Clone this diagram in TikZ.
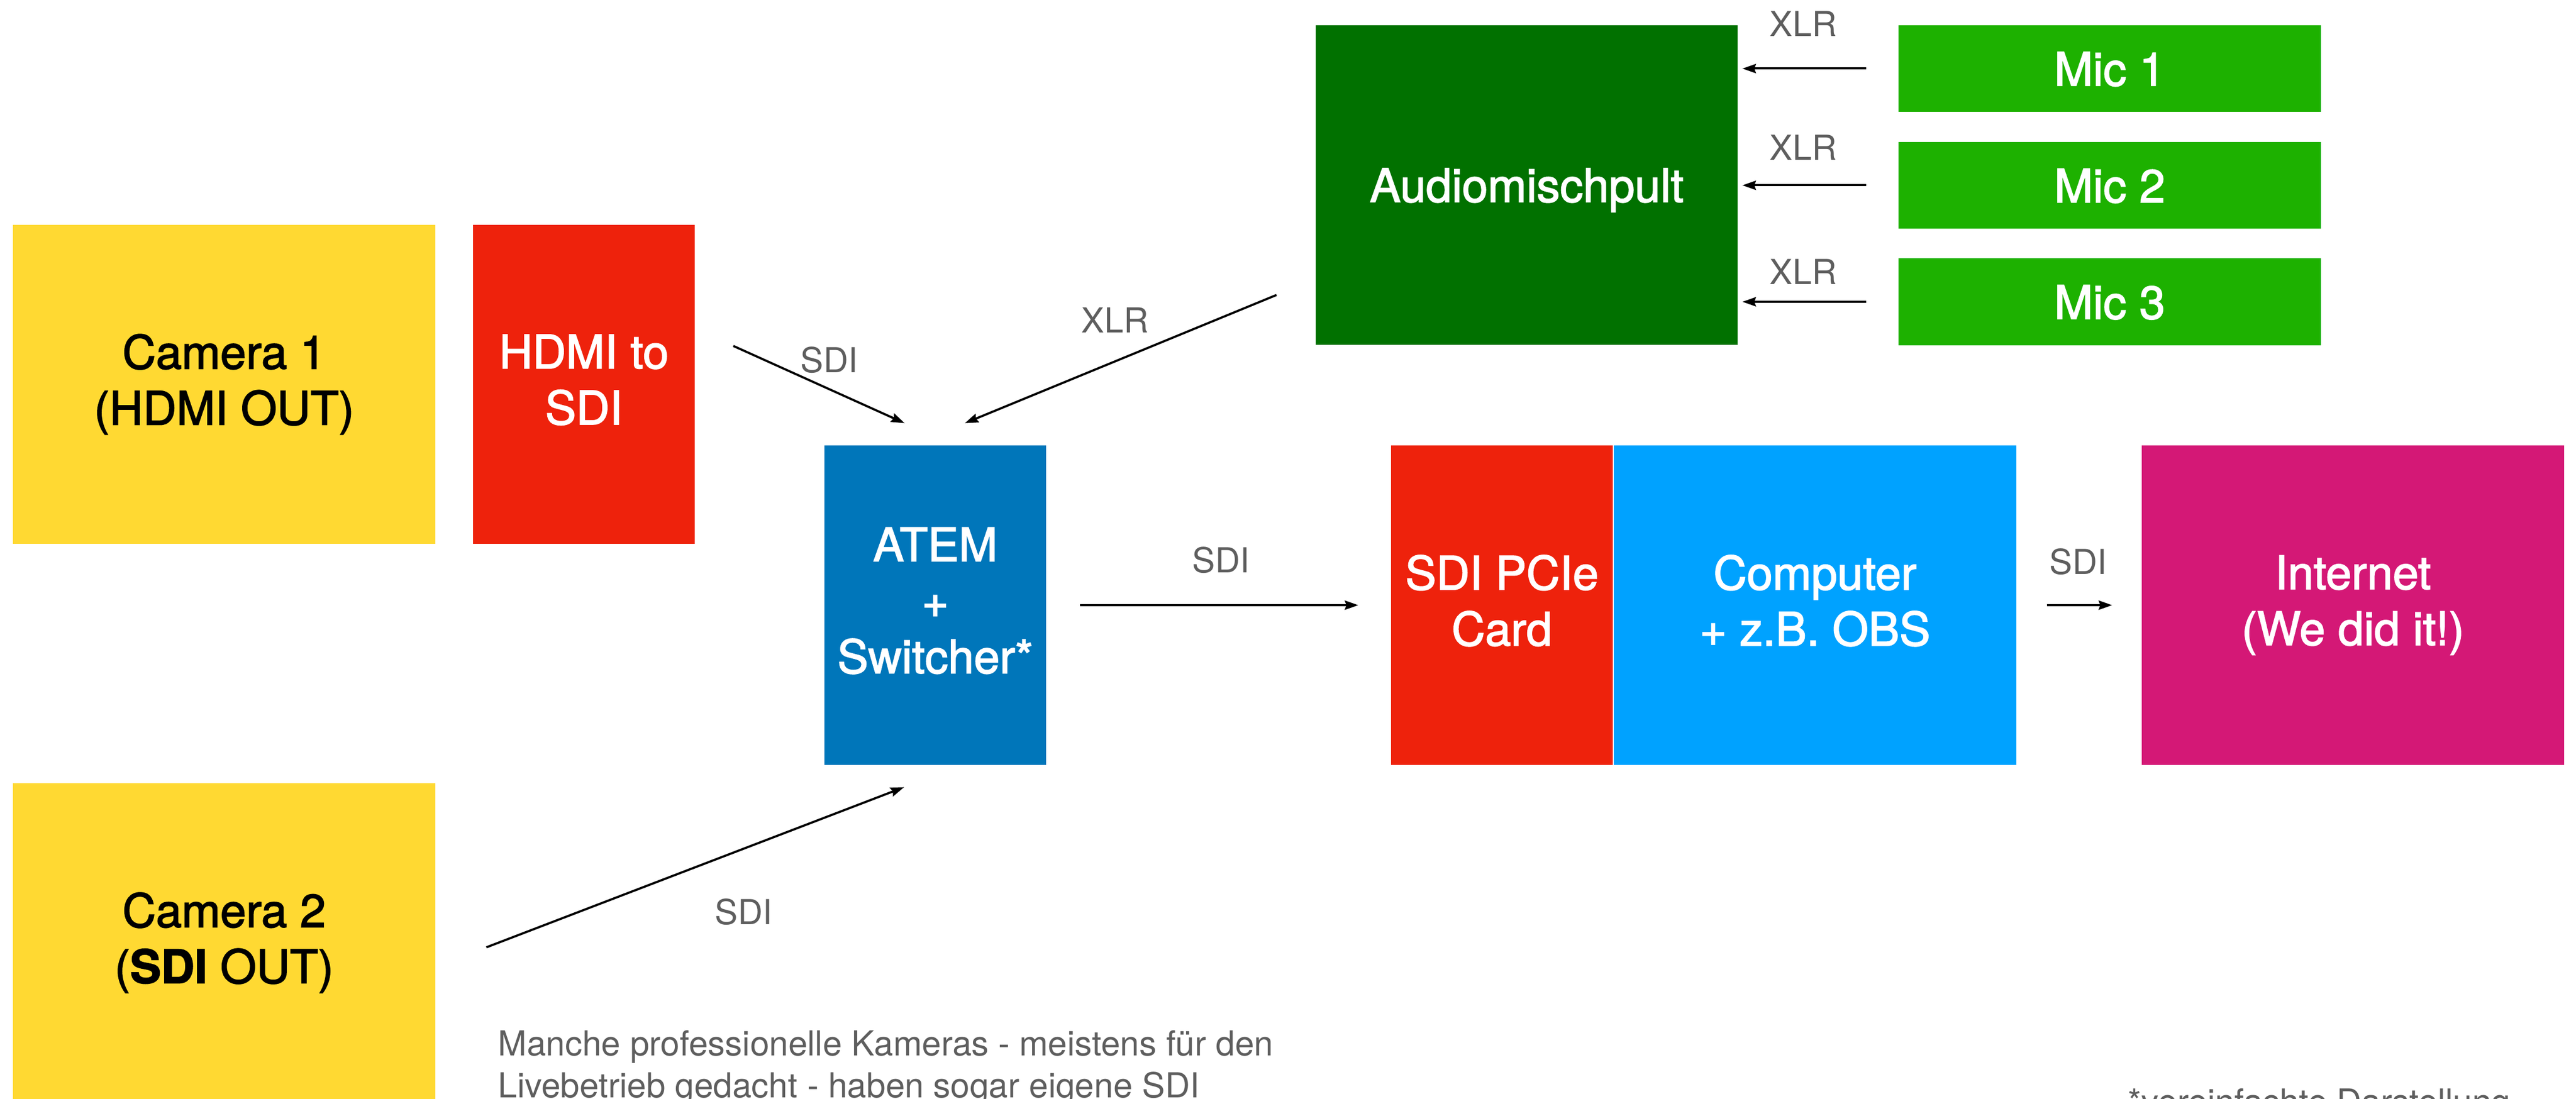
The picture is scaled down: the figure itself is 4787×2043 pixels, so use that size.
\documentclass[tikz,border=0pt]{standalone}
\usepackage{fontspec}
\setmainfont{TeX Gyre Heros}
\newfontfamily\boxfont{TeX Gyre Heros}[FakeBold=2]
\usepackage{xcolor}
\usetikzlibrary{arrows.meta,positioning,calc}

\definecolor{camyellow}{HTML}{FFD932}
\definecolor{convred}{HTML}{EE220C}
\definecolor{atemblue}{HTML}{0076BA}
\definecolor{pcblue}{HTML}{00A2FF}
\definecolor{netpink}{HTML}{D41876}
\definecolor{mixgreen}{HTML}{017100}
\definecolor{micgreen}{HTML}{1DB100}
\definecolor{labelgray}{HTML}{5E5E5E}

\tikzset{
  block/.style={rectangle, inner sep=0pt, align=center, text=white,
    minimum height=5.93cm, font=\boxfont\fontsize{24.5}{29.6}\selectfont,
    execute at begin node={\rule{0pt}{0.95em}},
    execute at end node={\rule[-0.21em]{0pt}{0.21em}}},
  camblock/.style={block, fill=camyellow, text=black, minimum width=7.85cm},
  lbl/.style={text=labelgray, inner sep=0pt, font=\fontsize{18.2}{22.2}\selectfont},
  conn/.style={line width=0.04cm, -{Stealth[length=0.25cm,width=0.17cm,inset=0.03cm]}}
}

\begin{document}
\begin{tikzpicture}[x=0.01cm,y=-0.01cm]
\useasboundingbox (0,0) rectangle (4787,2043);

% Video sources
\node[camblock] (cam1) at (416.5,714.5) {Camera 1\\(HDMI OUT)};
\node[block, fill=convred, minimum width=4.12cm] (conv) at (1085,714.5) {HDMI to\\SDI};
\node[camblock] (cam2) at (416.5,1752.5) {Camera 2\\(\textbf{SDI} OUT)};

% Switcher, capture card and stream
\node[block, fill=atemblue, minimum width=4.12cm] (atem) at (1738,1125) {ATEM\\+\\Switcher*};
\node[block, fill=convred, minimum width=4.12cm] (card) at (2791,1125) {SDI PCIe\\Card};
\node[block, fill=pcblue, minimum width=7.48cm, right=0pt of card] (pc) {Computer\\+ z.B. OBS};
\node[block, fill=netpink, minimum width=7.85cm] (net) at (4372.5,1125) {Internet\\(We did it!)};

% Audio
\node[block, fill=mixgreen, minimum width=7.84cm] (mixer) at (2837,344) {Audiomischpult};
\foreach \i/\y/\ly in {1/127.5/44, 2/344.5/274, 3/561/505} {
  \node[block, fill=micgreen, minimum width=7.85cm, minimum height=1.61cm] (mic\i) at (3920.5,\y) {Mic \i};
  \draw[conn, shorten <=0.59cm, shorten >=0.08cm] (mic\i.west) -- (mixer.east |- mic\i.west);
  \node[lbl] (xlr\i) at (3351,\ly) {XLR};
}

% Arrow ends
\coordinate (convout) at ($(conv.north east)+(71,226)$);
\coordinate (atemin1) at ($(atem.north)+(-57,-41)$);
\coordinate (mixout) at ($(mixer.south west)+(-72,-93)$);
\coordinate (atemin2) at ($(atem.north)+(55,-41)$);
\coordinate (cam2out) at ($(cam2.east)+(94,8.5)$);
\coordinate (atemin3) at ($(atem.south)+(-58,41)$);

% Connections
\draw[conn] (convout) -- (atemin1);
\draw[conn] (mixout) -- (atemin2);
\draw[conn] (cam2out) -- (atemin3);
\draw[conn, shorten <=0.62cm, shorten >=0.6cm] (atem) -- (card);
\draw[conn, shorten <=0.56cm, shorten >=0.54cm] (pc) -- (net);

% Labels
\node[lbl] (sdi1) at (1541,669) {SDI};
\node[lbl] (xlr0) at (2072,595) {XLR};
\node[lbl] (sdi2) at (1382,1695) {SDI};
\node[lbl] (sdi3) at (2269,1041) {SDI};
\node[lbl] (sdi4) at (3862,1044) {SDI};

% Notes
\node[lbl, anchor=north west, align=left] (note) at (925,1915)
  {Manche professionelle Kameras - meistens für den\\Livebetrieb gedacht - haben sogar eigene SDI};
\node[lbl, anchor=base west] (footnote) at (3954,2070) {*vereinfachte Darstellung};

\end{tikzpicture}
\end{document}
